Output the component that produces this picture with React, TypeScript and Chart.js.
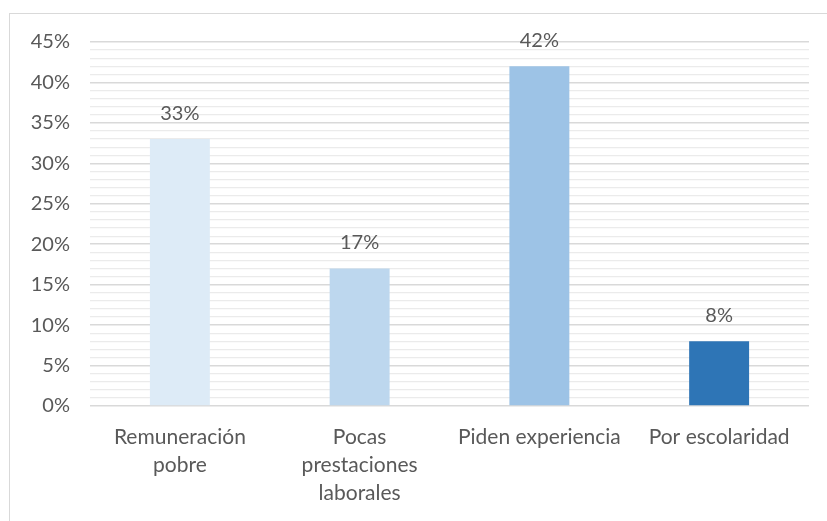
import React, { useEffect, useRef } from "react";
import { Chart, registerables } from "chart.js";

Chart.register(...registerables);

const categories: (string | string[])[] = [
  ["Remuneración", "pobre"],
  ["Pocas", "prestaciones", "laborales"],
  "Piden experiencia",
  "Por escolaridad",
];
const values = [33, 17, 42, 8];
const barColors = ["#DDEBF7", "#BDD7EE", "#9DC3E6", "#2E75B6"];
const yMax = 45;
const yMajorStep = 5;

const FONT = "Lato, 'Open Sans', sans-serif";
const TEXT = "#595959";

const dataLabelPlugin = {
  id: "dataLabels",
  afterDatasetsDraw(chart: any) {
    const ctx = chart.ctx;
    const meta = chart.getDatasetMeta(0);
    ctx.save();
    ctx.font = `20px ${FONT}`;
    ctx.fillStyle = TEXT;
    ctx.textAlign = "center";
    ctx.textBaseline = "bottom";
    meta.data.forEach((bar: any, i: number) => {
      ctx.fillText(values[i] + "%", bar.x, bar.y - 16);
    });
    ctx.restore();
  },
};

export default function App() {
  const ref = useRef<HTMLCanvasElement>(null);
  useEffect(() => {
    if (!ref.current) return;
    const chart = new Chart(ref.current, {
      type: "bar",
      data: {
        labels: categories,
        datasets: [
          {
            data: values,
            backgroundColor: barColors,
            barPercentage: 0.667,
            categoryPercentage: 0.5,
          },
        ],
      },
      options: {
        animation: false,
        responsive: false,
        maintainAspectRatio: false,
        layout: { padding: { top: 42, right: 18, left: 0, bottom: 0 } },
        plugins: { legend: { display: false }, tooltip: { enabled: false } },
        scales: {
          x: {
            grid: { display: false, drawTicks: false },
            border: { display: false },
            ticks: {
              color: TEXT,
              font: { family: FONT, size: 21, lineHeight: "28px" },
              padding: 17,
              maxRotation: 0,
              autoSkip: false,
            },
            afterFit(scale: any) {
              scale.height = 521 - 406;
            },
          },
          y: {
            min: 0,
            max: yMax,
            grid: {
              drawTicks: false,
              color: (c: any) => (c.tick && c.tick.value % yMajorStep === 0 ? "#d9d9d9" : "#ebebeb"),
              lineWidth: (c: any) => (c.tick && c.tick.value % yMajorStep === 0 ? 1.6 : 1.2),
            },
            border: { display: false },
            ticks: {
              stepSize: 1,
              autoSkip: false,
              color: TEXT,
              font: { family: FONT, size: 20 },
              padding: 20,
              callback: (v: any) => (Number(v) % yMajorStep === 0 ? v + "%" : ""),
            },
            afterFit(scale: any) {
              scale.width = 90;
            },
          },
        },
      },
      plugins: [dataLabelPlugin],
    });
    return () => chart.destroy();
  }, []);
  return (
    <div style={{ position: "absolute", left: 0, top: 0, width: 827, height: 521, background: "#fff", overflow: "hidden" }}>
      <div
        style={{
          position: "absolute",
          left: 9,
          top: 13,
          width: 840,
          height: 540,
          border: "1.5px solid #d9d9d9",
          boxSizing: "border-box",
        }}
      />
      <canvas ref={ref} width={827} height={521} style={{ position: "absolute", left: 0, top: 0 }} />
    </div>
  );
}
